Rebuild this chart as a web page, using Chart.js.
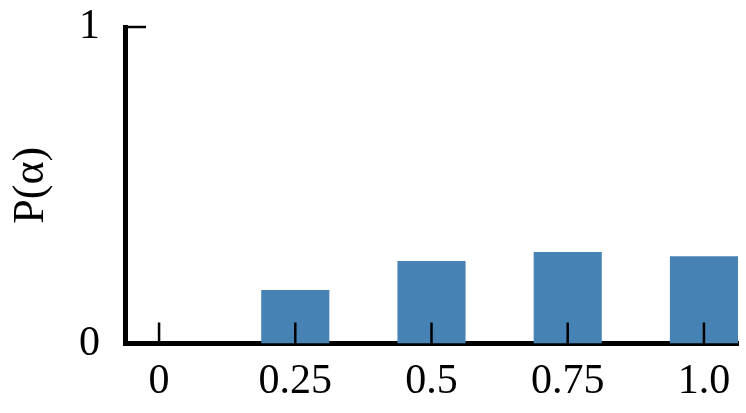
<!DOCTYPE html>
<html>
<head>
<meta charset="utf-8">
<script src="https://cdn.jsdelivr.net/npm/chart.js@4/dist/chart.umd.min.js"></script>
<style>
html,body{margin:0;padding:0;background:#fff;}
#wrap{width:746px;height:413px;position:relative;}
</style>
</head>
<body>
<div id="wrap"><canvas id="c"></canvas></div>
<script>
const categories = [0, 0.25, 0.5, 0.75, 1.0];
const tickLabels = ['0', '0.25', '0.5', '0.75', '1.0'];
const probabilities = [0, 0.169, 0.261, 0.289, 0.276];
const yTicks = [0, 1];
const yTickLabels = ['0', '1'];

const FONT = "'Liberation Serif', 'Times New Roman', serif";

const innerTicks = {
  id: 'innerTicks',
  afterDraw(chart) {
    const ctx = chart.ctx;
    const xs = chart.scales.x, ys = chart.scales.y;
    const area = chart.chartArea;
    ctx.save();
    ctx.strokeStyle = '#000';
    ctx.lineWidth = 2.5;
    ctx.beginPath();
    categories.forEach(v => {
      const px = xs.getPixelForValue(v);
      ctx.moveTo(px, area.bottom);
      ctx.lineTo(px, area.bottom - 21);
    });
    const py = ys.getPixelForValue(1);
    ctx.moveTo(area.left, py);
    ctx.lineTo(area.left + 21, py);
    ctx.stroke();
    ctx.restore();
  }
};

new Chart(document.getElementById('c'), {
  type: 'bar',
  data: {
    datasets: [{
      data: categories.map((x, i) => ({x: x, y: probabilities[i]})),
      backgroundColor: '#4682b4',
      borderWidth: 0,
      barPercentage: 0.5,
      categoryPercentage: 1.0
    }]
  },
  options: {
    responsive: true,
    maintainAspectRatio: false,
    animation: false,
    layout: {padding: {top: 27, right: 8, bottom: 0, left: 0}},
    plugins: {legend: {display: false}, tooltip: {enabled: false}},
    scales: {
      x: {
        type: 'linear',
        offset: false,
        min: -0.0625,
        max: 1.0625,
        afterBuildTicks: s => { s.ticks = categories.map(v => ({value: v})); },
        afterFit: s => { s.height = 69.5; s.paddingLeft = 0; s.paddingRight = 0; },
        grid: {display: false, drawTicks: false, offset: false},
        border: {display: true, color: '#000', width: 5},
        ticks: {
          color: '#000',
          padding: 13,
          maxRotation: 0,
          autoSkip: false,
          font: {family: FONT, size: 42},
          callback: v => { const i = categories.indexOf(v); return i >= 0 ? tickLabels[i] : ''; }
        }
      },
      y: {
        min: 0,
        max: 1,
        afterBuildTicks: s => { s.ticks = yTicks.map(v => ({value: v})); },
        afterFit: s => { s.width = 125; s.paddingTop = 0; s.paddingBottom = 0; },
        grid: {display: false, drawTicks: false},
        border: {display: true, color: '#000', width: 5},
        ticks: {
          color: '#000',
          padding: 25,
          font: {family: FONT, size: 42},
          callback: v => { const i = yTicks.indexOf(v); return i >= 0 ? yTickLabels[i] : ''; }
        },
        title: {
          display: true,
          text: 'P(α)',
          color: '#000',
          padding: {top: 5, bottom: 0},
          font: {family: FONT, size: 44}
        }
      }
    }
  },
  plugins: [innerTicks]
});
</script>
</body>
</html>
